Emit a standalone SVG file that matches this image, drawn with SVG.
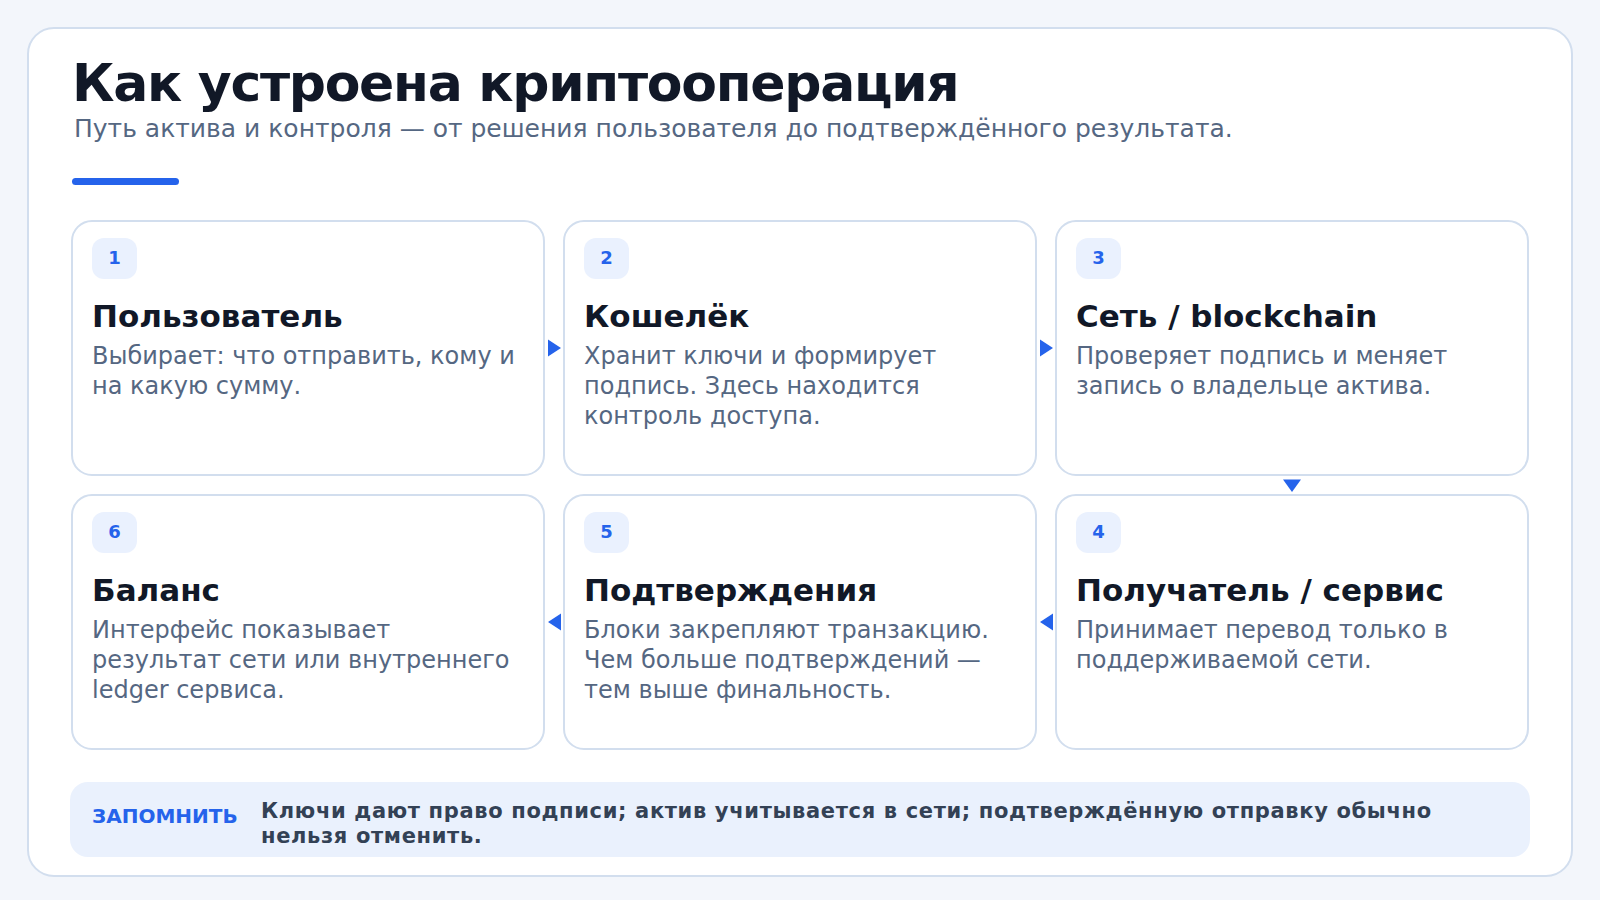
<svg xmlns="http://www.w3.org/2000/svg" width="1600" height="900" viewBox="0 0 1600 900">
<style>
.card{fill:#ffffff;stroke:#d2deee;stroke-width:2}
.badge{fill:#eaf1fe}
.num{font-family:"DejaVu Sans",sans-serif;font-weight:bold;font-size:18px;fill:#2563eb;text-anchor:middle}
.ttl{font-family:"DejaVu Sans",sans-serif;font-weight:bold;font-size:31px;fill:#111827}
.desc{font-family:"DejaVu Sans",sans-serif;font-size:24px;fill:#556782}
.arr{fill:#2563eb}
</style>
<rect x="0" y="0" width="1600" height="900" fill="#f3f6fb"/>
<rect x="28" y="28" width="1544" height="848" rx="26" fill="#ffffff" stroke="#d2deee" stroke-width="2"/>
<text x="72" y="101" font-family="DejaVu Sans, sans-serif" font-weight="bold" font-size="52" letter-spacing="-1.3" fill="#111827">Как устроена криптооперация</text>
<text x="74" y="137" font-family="DejaVu Sans, sans-serif" font-size="25" fill="#556782">Путь актива и контроля — от решения пользователя до подтверждённого результата.</text>
<rect x="72" y="178" width="107" height="7" rx="3.5" fill="#2563eb"/>

<g id="node1">
<rect class="card" x="72" y="221" width="472" height="254" rx="20"/>
<rect class="badge" x="92" y="238" width="45" height="41" rx="12"/>
<text class="num" x="114.5" y="264">1</text>
<text class="ttl" x="92" y="327">Пользователь</text>
<text class="desc" x="92" y="364">Выбирает: что отправить, кому и</text>
<text class="desc" x="92" y="394">на какую сумму.</text>
</g>
<g id="node2">
<rect class="card" x="564" y="221" width="472" height="254" rx="20"/>
<rect class="badge" x="584" y="238" width="45" height="41" rx="12"/>
<text class="num" x="606.5" y="264">2</text>
<text class="ttl" x="584" y="327">Кошелёк</text>
<text class="desc" x="584" y="364">Хранит ключи и формирует</text>
<text class="desc" x="584" y="394">подпись. Здесь находится</text>
<text class="desc" x="584" y="424">контроль доступа.</text>
</g>
<g id="node3">
<rect class="card" x="1056" y="221" width="472" height="254" rx="20"/>
<rect class="badge" x="1076" y="238" width="45" height="41" rx="12"/>
<text class="num" x="1098.5" y="264">3</text>
<text class="ttl" x="1076" y="327">Сеть / blockchain</text>
<text class="desc" x="1076" y="364">Проверяет подпись и меняет</text>
<text class="desc" x="1076" y="394">запись о владельце актива.</text>
</g>
<g id="node6">
<rect class="card" x="72" y="495" width="472" height="254" rx="20"/>
<rect class="badge" x="92" y="512" width="45" height="41" rx="12"/>
<text class="num" x="114.5" y="538">6</text>
<text class="ttl" x="92" y="601">Баланс</text>
<text class="desc" x="92" y="638">Интерфейс показывает</text>
<text class="desc" x="92" y="668">результат сети или внутреннего</text>
<text class="desc" x="92" y="698">ledger сервиса.</text>
</g>
<g id="node5">
<rect class="card" x="564" y="495" width="472" height="254" rx="20"/>
<rect class="badge" x="584" y="512" width="45" height="41" rx="12"/>
<text class="num" x="606.5" y="538">5</text>
<text class="ttl" x="584" y="601">Подтверждения</text>
<text class="desc" x="584" y="638">Блоки закрепляют транзакцию.</text>
<text class="desc" x="584" y="668">Чем больше подтверждений —</text>
<text class="desc" x="584" y="698">тем выше финальность.</text>
</g>
<g id="node4">
<rect class="card" x="1056" y="495" width="472" height="254" rx="20"/>
<rect class="badge" x="1076" y="512" width="45" height="41" rx="12"/>
<text class="num" x="1098.5" y="538">4</text>
<text class="ttl" x="1076" y="601">Получатель / сервис</text>
<text class="desc" x="1076" y="638">Принимает перевод только в</text>
<text class="desc" x="1076" y="668">поддерживаемой сети.</text>
</g>

<g id="connectors">
<polygon class="arr" points="548,339.5 561,348 548,356.5"/>
<polygon class="arr" points="1040,339.5 1053,348 1040,356.5"/>
<polygon class="arr" points="1283,479.5 1301,479.5 1292,492"/>
<polygon class="arr" points="1053,613.5 1040,622 1053,630.5"/>
<polygon class="arr" points="561,613.5 548,622 561,630.5"/>
</g>

<g id="note">
<rect x="70" y="782" width="1460" height="75" rx="18" fill="#eaf1fd"/>
<text x="92" y="823" font-family="DejaVu Sans, sans-serif" font-weight="bold" font-size="20" fill="#2563eb">ЗАПОМНИТЬ</text>
<text font-family="DejaVu Sans, sans-serif" font-weight="bold" font-size="21" letter-spacing="0.65" fill="#334155"><tspan x="261" y="818">Ключи дают право подписи; актив учитывается в сети; подтверждённую отправку обычно</tspan><tspan x="261" y="843">нельзя отменить.</tspan></text>
</g>
</svg>
